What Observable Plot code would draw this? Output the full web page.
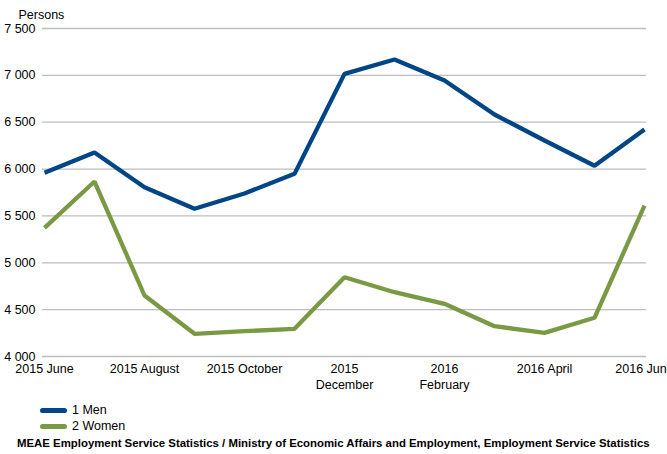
<!DOCTYPE html>
<html>
<head>
<meta charset="utf-8">
<script src="https://cdn.jsdelivr.net/npm/d3@7"></script>
<script src="https://cdn.jsdelivr.net/npm/@observablehq/plot@0.6"></script>
<style>
  html, body { margin: 0; padding: 0; background: #fff; overflow: hidden; width: 667px; height: 454px; }
  body { font-family: "Liberation Sans", Arial, sans-serif; }
  #chart svg { display: block; overflow: hidden; }
  .legend { position: absolute; left: 40px; top: 402px; font-size: 12.5px; color: #000; }
  .legend .item { height: 16px; display: flex; align-items: center; }
  .legend .sw { width: 27px; height: 5px; border-radius: 3px; margin-right: 5px; }
  .caption { position: absolute; left: 17px; top: 437px; font-size: 11.4px; font-weight: bold; color: #000; white-space: nowrap; }
</style>
</head>
<body>
<div id="chart"></div>
<div class="legend">
  <div class="item"><div class="sw" style="background:#004586"></div>1 Men</div>
  <div class="item"><div class="sw" style="background:#799a43"></div>2 Women</div>
</div>
<div class="caption">MEAE Employment Service Statistics / Ministry of Economic Affairs and Employment, Employment Service Statistics</div>
<script>
const months = ["2015-06","2015-07","2015-08","2015-09","2015-10","2015-11","2015-12","2016-01","2016-02","2016-03","2016-04","2016-05","2016-06"];
const menValues = [5960, 6177, 5806, 5576, 5740, 5949, 7016, 7169, 6945, 6582, 6305, 6035, 6422];
const womenValues = [5373, 5867, 4651, 4242, 4270, 4295, 4846, 4686, 4562, 4323, 4252, 4413, 5611];
const tickMonths = ["2015-06","2015-08","2015-10","2015-12","2016-02","2016-04","2016-06"];
const tickLabels = ["2015 June","2015 August","2015 October","2015\nDecember","2016\nFebruary","2016 April","2016 June"];
const yTicks = [4000, 4500, 5000, 5500, 6000, 6500, 7000, 7500];
const seriesNames = ["1 Men", "2 Women"];
const seriesColors = ["#004586", "#799a43"];

const data = [];
months.forEach((m, i) => {
  data.push({month: m, value: menValues[i], series: seriesNames[0]});
  data.push({month: m, value: womenValues[i], series: seriesNames[1]});
});
const labelOf = new Map(tickMonths.map((m, i) => [m, tickLabels[i]]));
const fmt = d => d3.format(",")(d).replace(/,/g, " ");

const plot = Plot.plot({
  width: 667,
  height: 395,
  marginLeft: 42,
  marginRight: 21,
  marginTop: 28,
  marginBottom: 39,
  style: {fontFamily: "Liberation Sans, Arial, sans-serif", fontSize: "12.5px", color: "#000", background: "#fff"},
  x: {type: "point", domain: months, padding: 0},
  y: {domain: [4000, 7500]},
  color: {domain: seriesNames, range: seriesColors},
  marks: [
    Plot.ruleY(yTicks, {stroke: "#bdbdbd", strokeWidth: 1.3}),
    Plot.axisY({ticks: yTicks, tickSize: 0, tickPadding: 7, tickFormat: fmt, label: null, fill: "#000", fontSize: 12.5}),
    Plot.axisX({ticks: tickMonths, tickSize: 0, tickPadding: 5, tickFormat: d => labelOf.get(d), label: null, fill: "#000", fontSize: 12.5, lineHeight: 1.3}),
    Plot.lineY(data, {x: "month", y: "value", z: "series", stroke: "series", strokeWidth: 4.3, strokeLinejoin: "miter", strokeLinecap: "butt"}),
    Plot.text(["Persons"], {frameAnchor: "top-left", dx: -24, dy: -18, textAnchor: "start", fill: "#000", fontSize: 12.5})
  ]
});
document.getElementById("chart").append(plot);
</script>
</body>
</html>
